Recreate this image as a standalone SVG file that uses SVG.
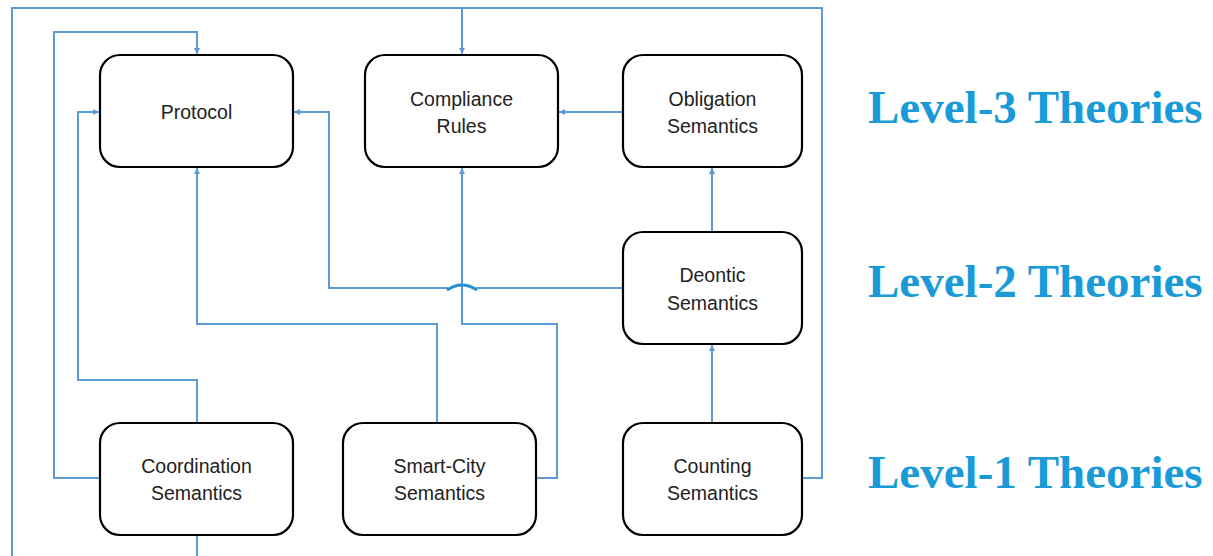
<svg xmlns="http://www.w3.org/2000/svg" width="1213" height="556" viewBox="0 0 1213 556">
<defs>
<marker id="arr" markerWidth="8" markerHeight="8" refX="6" refY="3" orient="auto" markerUnits="userSpaceOnUse">
<path d="M0,0 L6,3 L0,6 Z" fill="#5b9bd5"/>
</marker>
<style>
.box{fill:#fff;stroke:#000;stroke-width:2.2}
.lbl{font-family:"Liberation Sans",Arial,sans-serif;font-size:19.5px;fill:#222;text-anchor:middle}
.lvl{font-family:"Liberation Serif","Times New Roman",serif;font-weight:bold;font-size:47px;fill:#1b9ad8}
.c{fill:none;stroke:#5b9bd5;stroke-width:2}
.ca{fill:none;stroke:#5b9bd5;stroke-width:2;marker-end:url(#arr)}
</style>
</defs>
<rect width="1213" height="556" fill="#fff"/>
<g id="connectors">
<path class="c" d="M197,535 V560 M12,560 V8 H822 V478 H801"/>
<path class="ca" d="M462,8 V54"/>
<path class="ca" d="M100,478 H54 V32 H197 V54"/>
<path class="ca" d="M197,423 V380 H78 V112 H99"/>
<path class="ca" d="M437,423 V324 H197 V168"/>
<path class="ca" d="M537,478 H557 V324 H462 V168"/>
<path class="ca" d="M623,288 H476 M448,288 H329 V112 H294"/>
<path d="M447,290 Q462,280 477,290" fill="none" stroke="#2490d0" stroke-width="3"/>
<path class="ca" d="M623,112 H559"/>
<path class="ca" d="M712,232 V168"/>
<path class="ca" d="M712,423 V345"/>
</g>
<g id="protocol"><rect class="box" x="100" y="55" width="193" height="112" rx="20"/><text class="lbl" x="196.5" y="119">Protocol</text></g>
<g id="compliance"><rect class="box" x="365" y="55" width="193" height="112" rx="20"/><text class="lbl" x="461.5" y="106">Compliance</text><text class="lbl" x="461.5" y="133">Rules</text></g>
<g id="obligation"><rect class="box" x="623" y="55" width="179" height="112" rx="20"/><text class="lbl" x="712.5" y="106">Obligation</text><text class="lbl" x="712.5" y="133">Semantics</text></g>
<g id="deontic"><rect class="box" x="623" y="232" width="179" height="112" rx="20"/><text class="lbl" x="712.5" y="282">Deontic</text><text class="lbl" x="712.5" y="310">Semantics</text></g>
<g id="coordination"><rect class="box" x="100" y="423" width="193" height="112" rx="20"/><text class="lbl" x="196.5" y="473">Coordination</text><text class="lbl" x="196.5" y="500">Semantics</text></g>
<g id="smartcity"><rect class="box" x="343" y="423" width="193" height="112" rx="20"/><text class="lbl" x="439.5" y="473">Smart-City</text><text class="lbl" x="439.5" y="500">Semantics</text></g>
<g id="counting"><rect class="box" x="623" y="423" width="179" height="112" rx="20"/><text class="lbl" x="712.5" y="473">Counting</text><text class="lbl" x="712.5" y="500">Semantics</text></g>
<g id="levels">
<text class="lvl" x="868" y="123">Level-3 Theories</text>
<text class="lvl" x="868" y="297">Level-2 Theories</text>
<text class="lvl" x="868" y="488">Level-1 Theories</text>
</g>
</svg>
